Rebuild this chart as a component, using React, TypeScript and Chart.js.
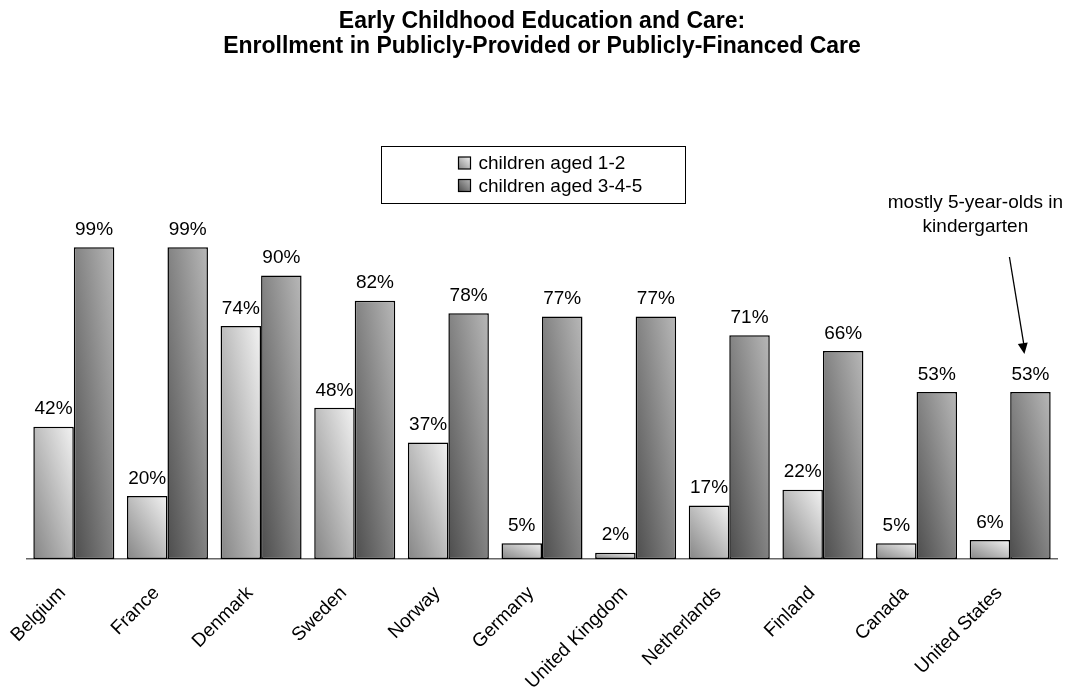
import React, { useEffect, useRef } from 'react';
import { Chart, registerables } from 'chart.js';

Chart.register(...registerables);

const countries = ['Belgium', 'France', 'Denmark', 'Sweden', 'Norway', 'Germany', 'United Kingdom', 'Netherlands', 'Finland', 'Canada', 'United States'];
const aged12 = [42, 20, 74, 48, 37, 5, 2, 17, 22, 5, 6];
const aged345 = [99, 99, 90, 82, 78, 77, 77, 71, 66, 53, 53];
const seriesNames = ['children aged 1-2', 'children aged 3-4-5'];
const titleLines = ['Early Childhood Education and Care:', 'Enrollment in Publicly-Provided or Publicly-Financed Care'];
const noteLines = ['mostly 5-year-olds in', 'kindergarten'];

const FONT = "'Liberation Sans', Arial, Helvetica, sans-serif";
const TEXT_SIZE = 19;
const CAT_PCT = 0.865;
const lightStops = ['#858585', '#f3f3f3'];
const darkStops = ['#4d4d4d', '#b8b8b8'];

function diagGradient(c2d: CanvasRenderingContext2D, left: number, top: number, right: number, bottom: number, stops: string[]) {
  if (![left, top, right, bottom].every((v) => Number.isFinite(v))) return stops[1];
  const w = Math.max(right - left, 1);
  const h = Math.max(bottom - top, 1);
  const len = Math.hypot(w, h);
  const gx = h / len;
  const gy = -w / len;
  const L = (2 * w * h) / len;
  const g = c2d.createLinearGradient(left, bottom, left + gx * L, bottom + gy * L);
  g.addColorStop(0, stops[0]);
  g.addColorStop(1, stops[1]);
  return g;
}

const barFill = (stops: string[], side: number) => (c: any) => {
  const chart = c.chart;
  const xs = chart.scales?.x;
  const ys = chart.scales?.y;
  if (!xs || !ys || c.type !== 'data' || c.raw === undefined) return stops[1];
  const center = xs.getPixelForValue(c.dataIndex);
  const cat = xs.width / countries.length;
  const bw = (cat * CAT_PCT) / 2;
  const left = side === 0 ? center - bw : center;
  const right = left + bw;
  const top = ys.getPixelForValue(c.raw);
  const bottom = ys.getPixelForValue(0);
  return diagGradient(chart.ctx, left, top, right, bottom, stops);
};

const valueLabels = {
  id: 'valueLabels',
  afterDatasetsDraw(chart: any) {
    const ctx = chart.ctx;
    ctx.save();
    ctx.font = `${TEXT_SIZE}px ${FONT}`;
    ctx.fillStyle = '#000';
    ctx.textAlign = 'center';
    ctx.textBaseline = 'bottom';
    chart.data.datasets.forEach((ds: any, di: number) => {
      const meta = chart.getDatasetMeta(di);
      meta.data.forEach((el: any, i: number) => {
        const p = el.getProps(['x', 'y'], true);
        ctx.fillText(`${ds.data[i]}%`, p.x, p.y - 8);
      });
    });
    ctx.restore();
  },
};

const legendBox = {
  id: 'legendBox',
  afterDraw(chart: any) {
    const ctx = chart.ctx;
    const cx = chart.width / 2;
    const boxW = 304;
    const boxH = 57;
    const left = Math.round(cx - boxW / 2) + 0.5;
    const top = Math.round(chart.chartArea.top - 98) + 0.5;
    ctx.save();
    ctx.fillStyle = '#fff';
    ctx.fillRect(left, top, boxW, boxH);
    ctx.strokeStyle = '#000';
    ctx.lineWidth = 1;
    ctx.strokeRect(left, top, boxW, boxH);
    ctx.font = `${TEXT_SIZE}px ${FONT}`;
    ctx.textAlign = 'left';
    ctx.textBaseline = 'middle';
    const stopsList = [lightStops, darkStops];
    seriesNames.forEach((name, i) => {
      const rowY = top + 16.5 + i * 22.5;
      const sx = left + 77;
      const sz = 12;
      ctx.fillStyle = diagGradient(ctx, sx, rowY - sz / 2, sx + sz, rowY + sz / 2, stopsList[i]);
      ctx.fillRect(sx, rowY - sz / 2, sz, sz);
      ctx.strokeStyle = '#000';
      ctx.lineWidth = 1.2;
      ctx.strokeRect(sx, rowY - sz / 2, sz, sz);
      ctx.fillStyle = '#000';
      ctx.fillText(name, sx + sz + 8, rowY + 1);
    });
    ctx.restore();
  },
};

const noteArrow = {
  id: 'noteArrow',
  afterDraw(chart: any) {
    const ctx = chart.ctx;
    const meta = chart.getDatasetMeta(1);
    const el = meta.data[countries.length - 1];
    if (!el) return;
    const p = el.getProps(['x', 'y'], true);
    const area = chart.chartArea;
    ctx.save();
    ctx.font = `${TEXT_SIZE}px ${FONT}`;
    ctx.fillStyle = '#000';
    ctx.textAlign = 'center';
    ctx.textBaseline = 'middle';
    ctx.fillText(noteLines[0], p.x - 55, area.top - 41);
    ctx.fillText(noteLines[1], p.x - 55, area.top - 17);
    const x0 = p.x - 21;
    const y0 = area.top + 13;
    const x1 = p.x - 6;
    const y1 = p.y - 38;
    ctx.strokeStyle = '#000';
    ctx.lineWidth = 1.3;
    ctx.beginPath();
    ctx.moveTo(x0, y0);
    ctx.lineTo(x1, y1 - 6);
    ctx.stroke();
    const ang = Math.atan2(y1 - y0, x1 - x0);
    const ah = 11;
    const aw = 5;
    ctx.beginPath();
    ctx.moveTo(x1, y1);
    ctx.lineTo(x1 - ah * Math.cos(ang) + aw * Math.sin(ang), y1 - ah * Math.sin(ang) - aw * Math.cos(ang));
    ctx.lineTo(x1 - ah * Math.cos(ang) - aw * Math.sin(ang), y1 - ah * Math.sin(ang) + aw * Math.cos(ang));
    ctx.closePath();
    ctx.fill();
    ctx.restore();
  },
};

export default function App() {
  const ref = useRef<HTMLCanvasElement | null>(null);

  useEffect(() => {
    document.body.style.margin = '0';
    const canvas = ref.current;
    if (!canvas) return;
    const chart = new Chart(canvas, {
      type: 'bar',
      data: {
        labels: countries,
        datasets: [
          {
            label: seriesNames[0],
            data: aged12,
            backgroundColor: barFill(lightStops, 0),
            borderColor: '#000',
            borderWidth: 1.5,
            borderSkipped: false,
          },
          {
            label: seriesNames[1],
            data: aged345,
            backgroundColor: barFill(darkStops, 1),
            borderColor: '#000',
            borderWidth: 1.5,
            borderSkipped: false,
          },
        ],
      },
      options: {
        animation: false,
        responsive: false,
        maintainAspectRatio: false,
        devicePixelRatio: 1,
        datasets: { bar: { barPercentage: 1, categoryPercentage: CAT_PCT } },
        layout: { padding: { left: 27, right: 8, top: 0, bottom: 0 } },
        plugins: {
          legend: { display: false },
          tooltip: { enabled: false },
          title: {
            display: true,
            text: titleLines,
            color: '#000',
            font: { family: FONT, size: 23, weight: 'bold', lineHeight: 1.087 },
            padding: { top: 9.5, bottom: 184.5 },
          },
        },
        scales: {
          x: {
            grid: { display: false, drawTicks: false },
            border: { display: true, color: '#666', width: 1.5 },
            ticks: {
              color: '#000',
              font: { family: FONT, size: TEXT_SIZE },
              minRotation: 45,
              maxRotation: 45,
              padding: 23,
              labelOffset: -11,
              autoSkip: false,
            },
            afterFit: (scale: any) => {
              scale.height = 128;
            },
          },
          y: { display: false, min: 0, max: 100 },
        },
      },
      plugins: [valueLabels, legendBox, noteArrow],
    } as any);
    return () => chart.destroy();
  }, []);

  return (
    <div style={{ width: 1065, height: 687, background: '#fff' }}>
      <canvas ref={ref} width={1065} height={687} style={{ display: 'block', width: 1065, height: 687 }} />
    </div>
  );
}
